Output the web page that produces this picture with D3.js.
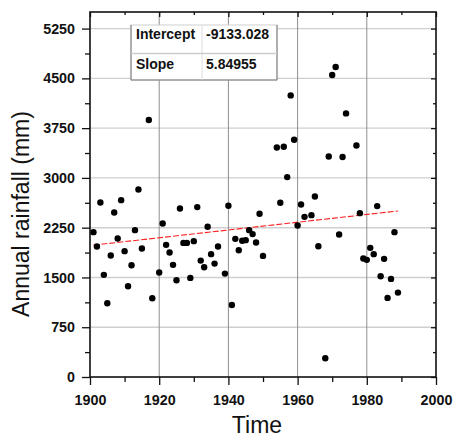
<!DOCTYPE html>
<html><head><meta charset="utf-8">
<script src="https://cdn.jsdelivr.net/npm/d3@7"></script>
<style>
html,body{margin:0;padding:0;background:#fff;}
text{font-family:"Liberation Sans",Arial,sans-serif;}
</style></head>
<body><svg id="c" width="456" height="440"></svg>
<script>
const years = [1901,1902,1903,1904,1905,1906,1907,1908,1909,1910,1911,1912,1913,1914,1915,1917,1918,1920,1921,1922,1923,1924,1925,1926,1927,1928,1929,1930,1931,1932,1933,1934,1935,1936,1937,1939,1940,1941,1942,1943,1944,1945,1946,1947,1948,1949,1950,1954,1955,1956,1957,1958,1959,1960,1961,1962,1964,1965,1966,1968,1969,1970,1971,1972,1973,1974,1977,1978,1979,1980,1981,1982,1983,1984,1985,1986,1987,1988,1989];
const rainfall = [2183,1966,2630,1539,1111,1830,2479,2087,2665,1896,1368,1685,2213,2826,1936,3872,1187,1574,2313,1991,1875,1690,1458,2539,2021,2021,1493,2047,2560,1754,1654,2263,1851,1709,1966,1558,2580,1086,2082,1911,2052,2062,2213,2153,2026,2459,1825,3459,2625,3470,3012,4243,3575,2283,2600,2413,2439,2720,1971,282,3323,4551,4672,2147,3314,3972,3489,2469,1785,1765,1946,1851,2575,1519,1780,1192,1478,2183,1272];
const xTicks = [1900,1920,1940,1960,1980,2000];
const xMinor = [1910,1930,1950,1970,1990];
const yTicks = [0,750,1500,2250,3000,3750,4500,5250];
const yMinor = [375,1125,1875,2625,3375,4125,4875];
const fitLabels = ["Intercept","Slope"];
const fitValues = ["-9133.028","5.84955"];
const intercept = -9133.028, slope = 5.84955;
const fitRange = [1901,1989];

const svg = d3.select("#c");
const L=90,R=436,T=12,B=377;
const x = d3.scaleLinear().domain([1900,2000]).range([L,R]);
const y = d3.scaleLinear().domain([0,5500]).range([B,T]);

// grid
svg.append("g").selectAll("line").data(yTicks.filter(d=>d>0)).join("line")
  .attr("x1",L).attr("x2",R).attr("y1",d=>y(d)).attr("y2",d=>y(d))
  .attr("stroke","#cfcfcf").attr("stroke-width",1.4);
svg.append("g").selectAll("line").data(xTicks.filter(d=>d>1900&&d<2000)).join("line")
  .attr("y1",T).attr("y2",B).attr("x1",d=>x(d)).attr("x2",d=>x(d))
  .attr("stroke","#8f8f8f").attr("stroke-width",1);

// axes
const font = g=>g.selectAll("text").attr("font-size",14.3).attr("font-weight","bold").attr("fill","#111");
const bx = svg.append("g").attr("transform",`translate(0,${B})`)
  .call(d3.axisBottom(x).tickValues(xTicks).tickFormat(d3.format("d")).tickSize(8).tickPadding(10));
bx.call(font);
svg.append("g").attr("transform",`translate(0,${B})`)
  .call(d3.axisBottom(x).tickValues(xMinor).tickFormat("").tickSize(5));
const ly = svg.append("g").attr("transform",`translate(${L},0)`)
  .call(d3.axisLeft(y).tickValues(yTicks).tickFormat(d3.format("d")).tickSize(8).tickPadding(7));
ly.call(font);
svg.append("g").attr("transform",`translate(${L},0)`)
  .call(d3.axisLeft(y).tickValues(yMinor).tickFormat("").tickSize(5));
svg.append("g").attr("transform",`translate(0,${T})`)
  .call(d3.axisBottom(x).tickValues(xTicks).tickFormat("").tickSize(5));
svg.append("g").attr("transform",`translate(0,${T})`)
  .call(d3.axisBottom(x).tickValues(xMinor).tickFormat("").tickSize(3));
svg.append("g").attr("transform",`translate(${R},0)`)
  .call(d3.axisLeft(y).tickValues(yTicks).tickFormat("").tickSize(5));
svg.append("g").attr("transform",`translate(${R},0)`)
  .call(d3.axisLeft(y).tickValues(yMinor).tickFormat("").tickSize(3));
svg.selectAll(".domain").remove();
svg.selectAll(".tick line").attr("stroke","#111").attr("stroke-width",1.3);

// frame
svg.append("rect").attr("x",L).attr("y",T).attr("width",R-L).attr("height",B-T)
  .attr("fill","none").attr("stroke","#111").attr("stroke-width",1.6);

// fit line
svg.append("line")
  .attr("x1",x(fitRange[0])).attr("y1",y(intercept+slope*fitRange[0]))
  .attr("x2",x(fitRange[1])).attr("y2",y(intercept+slope*fitRange[1]))
  .attr("stroke","#ff2020").attr("stroke-width",1.1).attr("stroke-dasharray","6,2");

// points
svg.append("g").selectAll("circle").data(years.map((d,i)=>[d,rainfall[i]])).join("circle")
  .attr("cx",d=>x(d[0])).attr("cy",d=>y(d[1])).attr("r",3.2).attr("fill","#000");

// table
const tx=131, ty=25, tw=146, th=55, tdiv=202, tmid=53.5;
const baselines=[38.5,69];
const tb = svg.append("g");
tb.append("rect").attr("x",tx).attr("y",ty).attr("width",tw).attr("height",th)
  .attr("fill","#fff").attr("stroke","#d0d0d0").attr("stroke-width",1);
tb.append("line").attr("x1",tx).attr("x2",tx).attr("y1",ty).attr("y2",ty+th).attr("stroke","#777");
tb.append("line").attr("x1",tx+tw).attr("x2",tx+tw).attr("y1",ty).attr("y2",ty+th).attr("stroke","#777");
tb.append("line").attr("x1",tx).attr("x2",tx+tw).attr("y1",ty+th).attr("y2",ty+th).attr("stroke","#777");
tb.append("line").attr("x1",tdiv).attr("x2",tdiv).attr("y1",ty).attr("y2",ty+th).attr("stroke","#ddd");
tb.append("line").attr("x1",tx).attr("x2",tx+tw).attr("y1",tmid).attr("y2",tmid).attr("stroke","#ccc").attr("stroke-width",1.5);
fitLabels.forEach((s,i)=>{
  tb.append("text").attr("x",tx+5).attr("y",baselines[i]).attr("font-size",14).attr("font-weight","bold").attr("fill","#111").text(s);
  tb.append("text").attr("x",tdiv+4).attr("y",baselines[i]).attr("font-size",14).attr("font-weight","bold").attr("fill","#111").text(fitValues[i]);
});

// titles
svg.append("text").attr("x",257).attr("y",433).attr("text-anchor","middle").attr("font-size",23).attr("fill","#111").text("Time");
svg.append("text").attr("transform","translate(29,214) rotate(-90)").attr("text-anchor","middle").attr("font-size",23).attr("fill","#111").text("Annual rainfall (mm)");
</script></body></html>
